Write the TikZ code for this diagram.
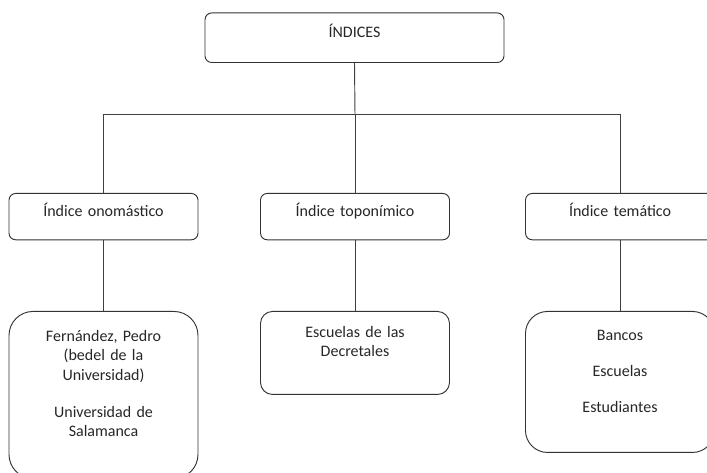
\documentclass[tikz,border=0pt]{standalone}
\usepackage{fontspec}
\setmainfont{Carlito}
\usepackage{xcolor}
\usepackage{tikz}
\tikzstyle{centered} = [align=center, text centered, font=\fontsize{12}{14.6}\selectfont]
\tikzstyle{box} = [centered, rectangle, draw=black!80, line width=0.7pt, inner sep=0pt, anchor=north, text=black!85]
\tikzset{
  % node styles
  head/.style={box, rounded corners=5pt, text width=224.25pt, text height=18.15pt, text depth=19pt},
  index/.style={box, rounded corners=5pt, text width=141.75pt, text height=17.25pt, text depth=17.5pt},
  entry/.style={box, text width=141.75pt},
  % edge styles
  link/.style={draw=black!75, line width=0.7pt},
}

\begin{document}
\begin{tikzpicture}[x=0.75pt, y=-0.75pt]
        \useasboundingbox (0,0) rectangle (707,473);
        \clip (0,0) rectangle (707,473);
        % root
        \node(indices)[head] at (354.5,12.5) {ÍNDICES};
        \coordinate(fork) at (355,114.7);
        % 2nd level
        \node(onomastico)[index] at (103.5,193) {Índice onomástico};
        \node(toponimico)[index] at (355,193) {Índice toponímico};
        \node(tematico)[index] at (620,193) {Índice temático};
        % 3rd level
        \node(onoList)[entry, rounded corners=18pt, text height=22.5pt, text depth=102.75pt] at (103.5,311)
            {Fernández, Pedro\\(bedel de la\\Universidad)\\[13.2pt]Universidad de\\Salamanca};
        \node(topoList)[entry, rounded corners=9pt, text height=19.5pt, text depth=42.75pt] at (355,311)
            {Escuelas de las\\Decretales};
        \node(temList)[entry, rounded corners=16.5pt, text height=21.75pt, text depth=84pt] at (620,311)
            {Bancos\\[12.4pt]Escuelas\\[12.4pt]Estudiantes};
        % connectors
        \draw[link] (indices.south) -- (fork);
        \draw[link] (onomastico.north) |- (fork) -| (tematico.north);
        \draw[link] (fork) -- (toponimico.north);
        \draw[link] (onomastico.south) -- (onoList.north);
        \draw[link] (toponimico.south) -- (topoList.north);
        \draw[link] (tematico.south) -- (temList.north);
\end{tikzpicture}
\end{document}
